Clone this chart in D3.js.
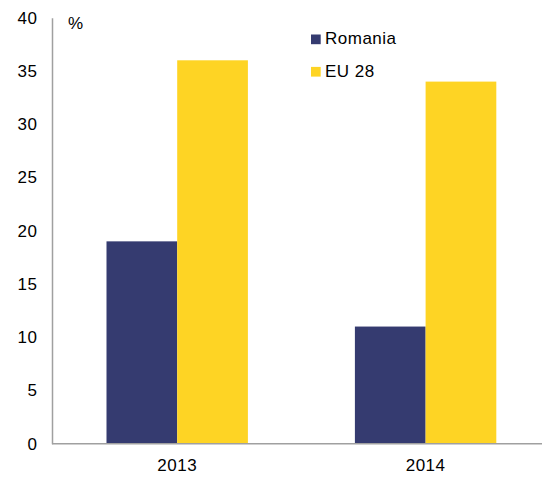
<!DOCTYPE html>
<html>
<head>
<meta charset="utf-8">
<script src="https://cdn.jsdelivr.net/npm/d3@7"></script>
<style>
  html, body { margin: 0; padding: 0; background: #fff; }
  svg { display: block; font-family: "Liberation Sans", Arial, sans-serif; }
  svg text { letter-spacing: 0.5px; }
</style>
</head>
<body>
<svg id="chart" width="542" height="477"></svg>
<script>
const years = ["2013", "2014"];
const seriesNames = ["Romania", "EU 28"];
const romania = [19, 11];
const eu28 = [36, 34];
const yTicks = [0, 5, 10, 15, 20, 25, 30, 35, 40];
const colors = ["#353b70", "#fed424"];

const svg = d3.select("#chart");
const x0 = 52, yBottom = 443.7, yTop = 17.7;
const step = 248.4;
const fs = 17;

const x = d3.scaleBand().domain(years).range([x0 + 1, x0 + 1 + 2 * step]).paddingInner(0).paddingOuter(0);
const groupW = 141.4;
const xs = d3.scaleBand().domain(seriesNames).range([0, groupW]).padding(0);
const y = d3.scaleLinear().domain([0, 40]).range([yBottom, yTop]);

const data = years.map((yr, i) => ({ year: yr, values: [
  { name: seriesNames[0], v: romania[i] },
  { name: seriesNames[1], v: eu28[i] }
]}));

const g = svg.selectAll("g.grp").data(data).join("g")
  .attr("class", "grp")
  .attr("transform", d => `translate(${x(d.year) + x.bandwidth() / 2 - groupW / 2},0)`);
g.selectAll("rect").data(d => d.values).join("rect")
  .attr("x", d => xs(d.name))
  .attr("width", xs.bandwidth())
  .attr("y", d => y(d.v))
  .attr("height", d => y(0) - y(d.v))
  .attr("fill", (d, i) => colors[i]);

// Y axis
const yAxis = svg.append("g").attr("transform", `translate(${x0},0)`)
  .call(d3.axisLeft(y).tickValues(yTicks).tickSize(0).tickPadding(14.5));
yAxis.select(".domain").attr("stroke", "#a0a0a0").attr("stroke-width", 1.5);
yAxis.selectAll("text").attr("font-size", fs).attr("fill", "#000")
  .attr("font-family", "Liberation Sans, Arial, sans-serif");

// X axis (extends to the right edge)
const xAxis = svg.append("g").attr("transform", `translate(0,${yBottom})`)
  .call(d3.axisBottom(x).tickSize(0).tickPadding(14.8));
xAxis.select(".domain").attr("d", `M${x0},0H542`).attr("stroke", "#a0a0a0").attr("stroke-width", 1.5);
xAxis.selectAll("text").attr("font-size", fs).attr("fill", "#000")
  .attr("font-family", "Liberation Sans, Arial, sans-serif");

// unit label
svg.append("text").attr("x", 68).attr("y", 28.7).attr("font-size", fs).text("%");

// legend
const leg = svg.append("g").selectAll("g").data(seriesNames).join("g")
  .attr("transform", (d, i) => `translate(311,${34.5 + i * 32.4})`);
leg.append("rect").attr("width", 9.7).attr("height", 9.7).attr("fill", (d, i) => colors[i]);
leg.append("text").attr("x", 14).attr("y", 9.8).attr("font-size", fs).text(d => d);
</script>
</body>
</html>
